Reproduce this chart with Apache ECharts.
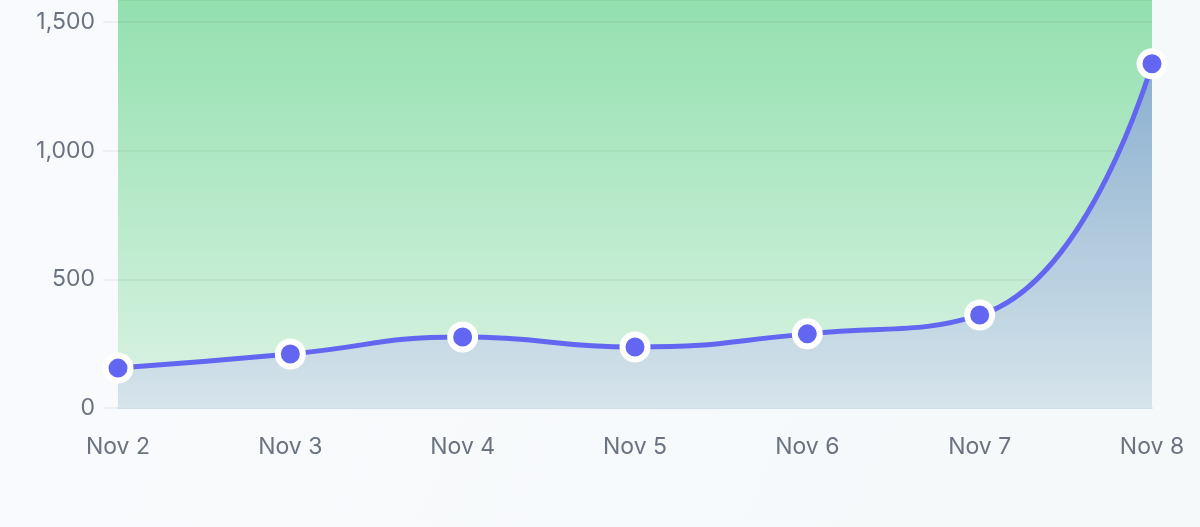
<!DOCTYPE html>
<html>
<head>
<meta charset="utf-8">
<script src="https://cdn.jsdelivr.net/npm/echarts@6/dist/echarts.min.js"></script>
<style>
  html, body { margin: 0; padding: 0; }
  #chart { width: 1200px; height: 527px; }
</style>
</head>
<body>
<div id="chart"></div>
<script>
// data
var days = ['Nov 2', 'Nov 3', 'Nov 4', 'Nov 5', 'Nov 6', 'Nov 7', 'Nov 8'];
var counts = [155, 210, 276, 237, 288, 361, 1337];
var yTicks = [0, 500, 1000, 1500];

var myChart = echarts.init(document.getElementById('chart'));

var option = {
  backgroundColor: {
    type: 'linear', x: 0, y: 0, x2: 1, y2: 1,
    colorStops: [
      { offset: 0, color: '#f9fafd' },
      { offset: 1, color: '#f5f9fa' }
    ]
  },
  grid: {
    left: 118,
    right: 48,
    top: 0,
    bottom: 119,
    show: true,
    borderWidth: 0,
    backgroundColor: {
      type: 'linear', x: 0, y: 0, x2: 0, y2: 1,
      colorStops: [
        { offset: 0, color: '#93e0af' },
        { offset: 1, color: '#dbf3e4' }
      ]
    }
  },
  xAxis: {
    type: 'category',
    data: days,
    boundaryGap: false,
    axisLine: { show: true, lineStyle: { color: '#c9d9e1', width: 1.5 } },
    axisTick: { show: false },
    axisLabel: {
      color: '#6b7280',
      fontSize: 23,
      fontFamily: 'Inter',
      margin: 28
    },
    splitLine: { show: false }
  },
  yAxis: {
    type: 'value',
    min: 0,
    max: 1585,
    interval: 500,
    axisLine: { show: false },
    axisTick: {
      show: true,
      length: 15,
      lineStyle: { color: 'rgba(0,0,0,0.06)', width: 1.5 }
    },
    axisLabel: {
      color: '#6b7280',
      fontSize: 23,
      fontFamily: 'Inter',
      margin: 23,
      showMaxLabel: false,
      formatter: function (v) {
        return yTicks.indexOf(v) >= 0 ? v.toLocaleString('en-US') : '';
      }
    },
    splitLine: {
      lineStyle: { color: 'rgba(0,0,0,0.06)', width: 1.5 }
    }
  },
  series: [{
    type: 'line',
    data: counts,
    smooth: 0.5,
    symbol: 'circle',
    symbolSize: 25,
    color: '#6366f1',
    lineStyle: { width: 5, color: '#6366f1' },
    itemStyle: {
      color: '#6366f1',
      borderColor: '#ffffff',
      borderWidth: 6
    },
    areaStyle: {
      color: {
        type: 'linear', x: 0, y: 0, x2: 0, y2: 1,
        colorStops: [
          { offset: 0, color: '#8aafcf' },
          { offset: 1, color: '#d6e4eb' }
        ]
      },
      opacity: 1
    },
    clip: false,
    z: 3
  }]
};

myChart.setOption(option);
</script>
</body>
</html>
